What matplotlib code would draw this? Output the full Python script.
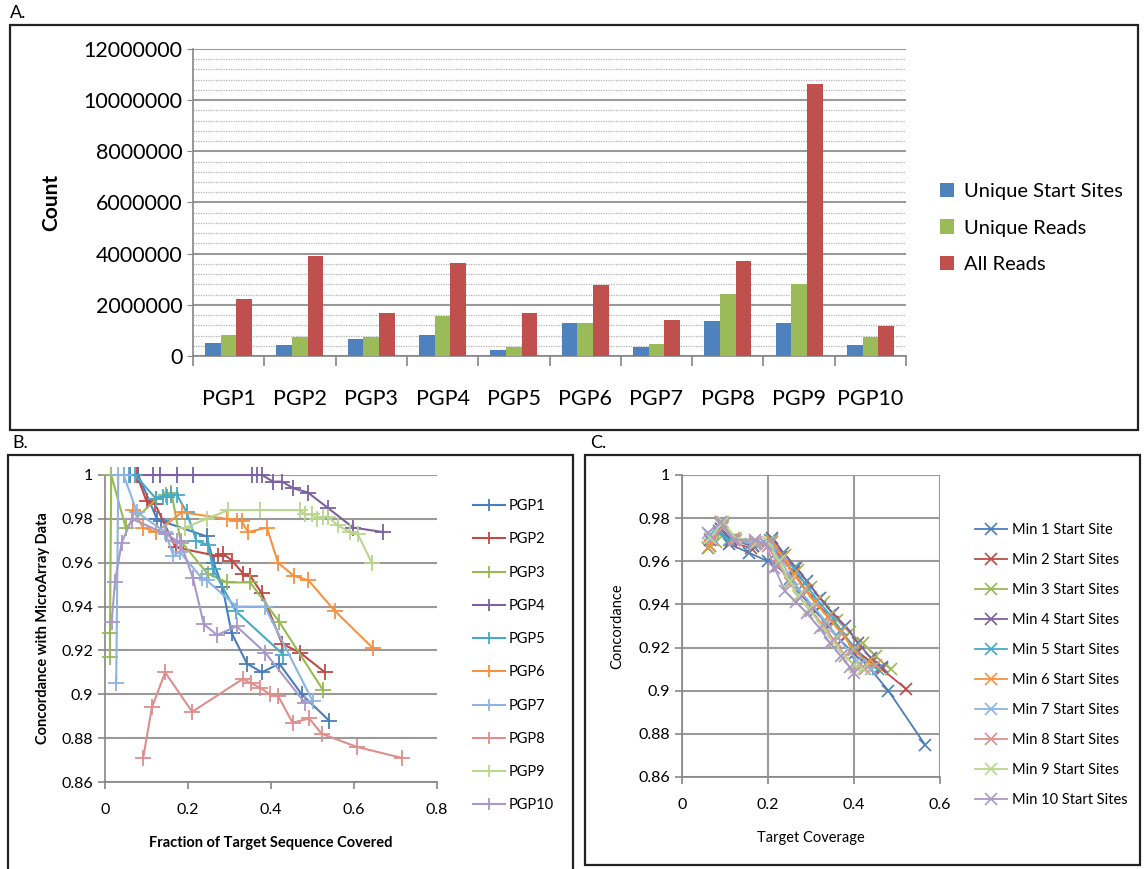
import numpy as np
import matplotlib
matplotlib.use("Agg")
import matplotlib.pyplot as plt
from matplotlib.patches import Rectangle
from matplotlib.ticker import MultipleLocator, FormatStrFormatter, FuncFormatter

plt.rcParams['font.family'] = ['Lato', 'DejaVu Sans']

# ---------------- Panel A data ----------------
samples = ['PGP1', 'PGP2', 'PGP3', 'PGP4', 'PGP5', 'PGP6', 'PGP7', 'PGP8', 'PGP9', 'PGP10']
unique_start_sites = [490000, 420000, 680000, 830000, 220000, 1290000, 360000, 1360000, 1290000, 420000]
unique_reads = [830000, 750000, 750000, 1570000, 360000, 1290000, 460000, 2430000, 2830000, 750000]
all_reads = [2240000, 3910000, 1700000, 3640000, 1700000, 2780000, 1420000, 3710000, 10650000, 1160000]

# ---------------- Panel B data ----------------
pgp1_x = [0.06, 0.08, 0.125, 0.136, 0.245, 0.262, 0.283, 0.305, 0.342, 0.378, 0.42, 0.474, 0.54]
pgp1_y = [1.0, 1.0, 0.980, 0.979, 0.972, 0.960, 0.949, 0.928, 0.914, 0.910, 0.914, 0.900, 0.888]
pgp2_x = [0.077, 0.10, 0.12, 0.17, 0.272, 0.285, 0.306, 0.333, 0.35, 0.378, 0.427, 0.47, 0.53]
pgp2_y = [1.0, 0.988, 0.987, 0.967, 0.963, 0.964, 0.961, 0.955, 0.954, 0.946, 0.923, 0.919, 0.910]
pgp3_x = [0.012, 0.012, 0.015, 0.05, 0.124, 0.148, 0.16, 0.182, 0.247, 0.294, 0.35, 0.42, 0.525]
pgp3_y = [0.917, 0.928, 1.0, 0.976, 0.989, 0.991, 0.992, 0.970, 0.955, 0.951, 0.951, 0.933, 0.902]
pgp4_x = [0.08, 0.116, 0.133, 0.173, 0.212, 0.354, 0.366, 0.378, 0.405, 0.427, 0.453, 0.489, 0.537, 0.598, 0.670]
pgp4_y = [1.0, 1.0, 1.0, 1.0, 1.0, 1.0, 1.0, 1.0, 0.997, 0.997, 0.994, 0.992, 0.985, 0.976, 0.974]
pgp5_x = [0.045, 0.058, 0.072, 0.124, 0.14, 0.15, 0.16, 0.173, 0.197, 0.22, 0.249, 0.26, 0.315, 0.43]
pgp5_y = [1.0, 1.0, 1.0, 0.989, 0.990, 0.990, 0.991, 0.991, 0.983, 0.970, 0.968, 0.957, 0.938, 0.918]
pgp6_x = [0.068, 0.092, 0.124, 0.185, 0.293, 0.317, 0.329, 0.345, 0.39, 0.417, 0.455, 0.49, 0.554, 0.646]
pgp6_y = [0.984, 0.976, 0.974, 0.983, 0.980, 0.979, 0.979, 0.974, 0.976, 0.960, 0.954, 0.952, 0.938, 0.921]
pgp7_x = [0.027, 0.032, 0.045, 0.077, 0.145, 0.165, 0.18, 0.233, 0.245, 0.317, 0.385, 0.50]
pgp7_y = [0.905, 1.0, 1.0, 0.983, 0.974, 0.963, 0.965, 0.953, 0.952, 0.940, 0.940, 0.897]
pgp8_x = [0.092, 0.113, 0.145, 0.21, 0.332, 0.352, 0.374, 0.397, 0.418, 0.452, 0.492, 0.522, 0.607, 0.715]
pgp8_y = [0.871, 0.894, 0.910, 0.892, 0.907, 0.905, 0.903, 0.900, 0.899, 0.887, 0.889, 0.882, 0.876, 0.871]
pgp9_x = [0.193, 0.245, 0.297, 0.373, 0.47, 0.482, 0.499, 0.511, 0.525, 0.537, 0.561, 0.59, 0.609, 0.643]
pgp9_y = [0.976, 0.980, 0.984, 0.984, 0.984, 0.982, 0.982, 0.980, 0.981, 0.981, 0.977, 0.974, 0.973, 0.960]
pgp10_x = [0.016, 0.024, 0.04, 0.065, 0.148, 0.173, 0.182, 0.212, 0.238, 0.27, 0.317, 0.386, 0.482]
pgp10_y = [0.933, 0.951, 0.969, 0.980, 0.973, 0.970, 0.969, 0.953, 0.932, 0.927, 0.931, 0.919, 0.896]

# ---------------- Panel C data ----------------
min1_x = [0.06, 0.085, 0.11, 0.155, 0.2, 0.22, 0.25, 0.28, 0.31, 0.34, 0.37, 0.40, 0.43, 0.48, 0.565]
min1_y = [0.966, 0.974, 0.968, 0.964, 0.960, 0.958, 0.952, 0.944, 0.937, 0.930, 0.923, 0.917, 0.912, 0.900, 0.875]
min2_x = [0.065, 0.09, 0.115, 0.16, 0.205, 0.23, 0.26, 0.29, 0.32, 0.35, 0.38, 0.41, 0.44, 0.465, 0.52]
min2_y = [0.967, 0.975, 0.969, 0.966, 0.968, 0.962, 0.955, 0.946, 0.939, 0.932, 0.925, 0.918, 0.913, 0.910, 0.901]
min3_x = [0.06, 0.08, 0.095, 0.12, 0.165, 0.21, 0.24, 0.27, 0.30, 0.33, 0.36, 0.39, 0.42, 0.45, 0.485]
min3_y = [0.966, 0.969, 0.977, 0.970, 0.967, 0.970, 0.963, 0.956, 0.948, 0.941, 0.933, 0.927, 0.922, 0.916, 0.910]
min4_x = [0.065, 0.09, 0.115, 0.165, 0.21, 0.235, 0.265, 0.29, 0.32, 0.35, 0.38, 0.41, 0.44, 0.465]
min4_y = [0.970, 0.975, 0.970, 0.967, 0.971, 0.964, 0.957, 0.951, 0.943, 0.936, 0.930, 0.922, 0.915, 0.911]
min5_x = [0.065, 0.085, 0.11, 0.16, 0.205, 0.23, 0.26, 0.285, 0.315, 0.345, 0.37, 0.40, 0.43, 0.455]
min5_y = [0.972, 0.973, 0.970, 0.968, 0.970, 0.963, 0.957, 0.950, 0.942, 0.935, 0.928, 0.920, 0.913, 0.910]
min6_x = [0.065, 0.09, 0.12, 0.17, 0.21, 0.235, 0.26, 0.285, 0.31, 0.34, 0.37, 0.40, 0.43, 0.45]
min6_y = [0.967, 0.978, 0.971, 0.968, 0.969, 0.962, 0.954, 0.947, 0.941, 0.934, 0.927, 0.919, 0.913, 0.912]
min7_x = [0.07, 0.09, 0.12, 0.17, 0.205, 0.23, 0.255, 0.28, 0.305, 0.335, 0.36, 0.39, 0.415, 0.44]
min7_y = [0.971, 0.977, 0.970, 0.968, 0.968, 0.960, 0.952, 0.945, 0.939, 0.932, 0.925, 0.918, 0.912, 0.910]
min8_x = [0.07, 0.095, 0.125, 0.17, 0.2, 0.225, 0.25, 0.275, 0.30, 0.33, 0.355, 0.38, 0.405, 0.425]
min8_y = [0.970, 0.976, 0.970, 0.969, 0.967, 0.958, 0.950, 0.943, 0.937, 0.930, 0.923, 0.916, 0.911, 0.910]
min9_x = [0.065, 0.095, 0.125, 0.175, 0.2, 0.225, 0.25, 0.27, 0.295, 0.325, 0.35, 0.375, 0.40, 0.42]
min9_y = [0.971, 0.978, 0.971, 0.969, 0.969, 0.960, 0.951, 0.944, 0.938, 0.930, 0.923, 0.917, 0.912, 0.910]
min10_x = [0.06, 0.09, 0.12, 0.17, 0.195, 0.215, 0.24, 0.265, 0.29, 0.32, 0.345, 0.37, 0.39, 0.40]
min10_y = [0.973, 0.978, 0.970, 0.970, 0.968, 0.957, 0.946, 0.941, 0.936, 0.929, 0.922, 0.916, 0.911, 0.908]

xl_colors = ['#4A7EBB', '#BE4B48', '#98B954', '#7D60A0', '#46AAC5',
             '#F69240', '#8EB4E3', '#DE8E8C', '#B9D68E', '#A899C8']
grid_c = '#9a9a9a'
spine_c = '#868686'

W, H = 1144, 869
fig = plt.figure(figsize=(W / 100, H / 100), dpi=100)


def px_rect(l, t, r, b):
    return [l / W, 1 - b / H, (r - l) / W, (b - t) / H]


def box(l, t, r, b):
    fig.patches.append(Rectangle((l / W, 1 - b / H), (r - l) / W, (b - t) / H,
                                 transform=fig.transFigure, fill=False,
                                 edgecolor='#222222', lw=1.6))


box(10, 25, 1138, 430)
box(8, 455, 573, 872)
box(585, 455, 1140, 865)
fig.text(10 / W, 1 - 13 / H, 'A.', fontsize=13, va='center', ha='left')
fig.text(12 / W, 1 - 443 / H, 'B.', fontsize=13, va='center', ha='left')
fig.text(590 / W, 1 - 443 / H, 'C.', fontsize=13, va='center', ha='left')

# ---------------- Panel A ----------------
axA = fig.add_axes(px_rect(193, 49, 906, 356))
xpos = np.arange(len(samples))
bw = 0.22
axA.bar(xpos - bw, unique_start_sites, bw, color='#4F81BD', label='Unique Start Sites', zorder=3)
axA.bar(xpos, unique_reads, bw, color='#9BBB59', label='Unique Reads', zorder=3)
axA.bar(xpos + bw, all_reads, bw, color='#C0504D', label='All Reads', zorder=3)
axA.set_xlim(-0.5, len(samples) - 0.5)
axA.set_ylim(0, 12000000)
axA.yaxis.set_major_locator(MultipleLocator(2000000))
axA.yaxis.set_minor_locator(MultipleLocator(400000))
axA.yaxis.set_major_formatter(FormatStrFormatter('%d'))
axA.grid(axis='y', which='major', color=grid_c, lw=1.5, zorder=0)
axA.grid(axis='y', which='minor', color='#b0b0b0', lw=0.9, ls=(0, (1, 1)), zorder=0)
axA.set_xticks(xpos)
axA.set_xticklabels(samples, fontsize=15.5)
axA.set_xticks(np.arange(-0.5, len(samples)), minor=True)
axA.tick_params(axis='x', which='major', length=0, pad=24)
axA.tick_params(axis='x', which='minor', length=7, color=spine_c, width=1.2)
axA.tick_params(axis='y', which='major', labelsize=15.5, length=4, color=spine_c)
axA.tick_params(axis='y', which='minor', length=0)
for s in ['top', 'right']:
    axA.spines[s].set_visible(False)
for s in ['left', 'bottom']:
    axA.spines[s].set_color(spine_c)
    axA.spines[s].set_linewidth(1.2)
axA.set_ylabel('Count', fontsize=15, fontweight='bold', labelpad=16)
axA.legend(loc='center left', bbox_to_anchor=(922 / W, 1 - 228 / H),
           bbox_transform=fig.transFigure, frameon=False, fontsize=14.5,
           handlelength=0.7, handleheight=0.7, labelspacing=0.95, handletextpad=0.5)

# ---------------- Panel B ----------------
axB = fig.add_axes(px_rect(105, 475, 437, 782))
b_x = [pgp1_x, pgp2_x, pgp3_x, pgp4_x, pgp5_x, pgp6_x, pgp7_x, pgp8_x, pgp9_x, pgp10_x]
b_y = [pgp1_y, pgp2_y, pgp3_y, pgp4_y, pgp5_y, pgp6_y, pgp7_y, pgp8_y, pgp9_y, pgp10_y]
for i in range(len(b_x)):
    axB.plot(b_x[i], b_y[i], color=xl_colors[i], marker='+', markersize=11, mew=1.3,
             lw=1.5, label='PGP%d' % (i + 1), zorder=3, clip_on=False)
axB.set_xlim(0, 0.8)
axB.set_ylim(0.86, 1.0)
axB.xaxis.set_major_locator(MultipleLocator(0.2))
axB.yaxis.set_major_locator(MultipleLocator(0.02))
gfmt = FuncFormatter(lambda v, p: ('%.2f' % v).rstrip('0').rstrip('.'))
axB.xaxis.set_major_formatter(gfmt)
axB.yaxis.set_major_formatter(gfmt)
axB.grid(axis='y', color=grid_c, lw=1.5, zorder=0)
axB.tick_params(labelsize=11.5, color=spine_c, length=5, width=1.2)
axB.tick_params(axis='x', pad=10)
for s in ['top', 'right']:
    axB.spines[s].set_visible(False)
for s in ['left', 'bottom']:
    axB.spines[s].set_color(spine_c)
    axB.spines[s].set_linewidth(1.2)
axB.set_ylabel('Concordance with MicroArray Data', fontsize=10.5, fontweight='bold', labelpad=8)
axB.set_xlabel('Fraction of Target Sequence Covered', fontsize=10.5, fontweight='bold', labelpad=14)
axB.legend(loc='upper left', bbox_to_anchor=(460 / W, 1 - 486 / H),
           bbox_transform=fig.transFigure, frameon=False, fontsize=10.5,
           handlelength=2.2, labelspacing=1.32, handletextpad=0.2, markerscale=0.8)

# ---------------- Panel C ----------------
axC = fig.add_axes(px_rect(682, 475, 940, 777))
c_x = [min1_x, min2_x, min3_x, min4_x, min5_x, min6_x, min7_x, min8_x, min9_x, min10_x]
c_y = [min1_y, min2_y, min3_y, min4_y, min5_y, min6_y, min7_y, min8_y, min9_y, min10_y]
c_labels = ['Min 1 Start Site'] + ['Min %d Start Sites' % k for k in range(2, 11)]
for i in range(len(c_x)):
    axC.plot(c_x[i], c_y[i], color=xl_colors[i], marker='x', markersize=9, mew=1.2,
             lw=1.3, label=c_labels[i], zorder=3)
axC.set_xlim(0, 0.6)
axC.set_ylim(0.86, 1.0)
axC.xaxis.set_major_locator(MultipleLocator(0.2))
axC.yaxis.set_major_locator(MultipleLocator(0.02))
axC.xaxis.set_major_formatter(gfmt)
axC.yaxis.set_major_formatter(gfmt)
axC.grid(color=grid_c, lw=1.5, zorder=0)
axC.tick_params(labelsize=11.5, color=spine_c, length=5, width=1.2)
axC.tick_params(axis='x', pad=10)
for s in ['top', 'right']:
    axC.spines[s].set_visible(False)
for s in ['left', 'bottom']:
    axC.spines[s].set_color(spine_c)
    axC.spines[s].set_linewidth(1.2)
axC.set_ylabel('Concordance', fontsize=10.5, labelpad=10)
axC.set_xlabel('Target Coverage', fontsize=10.5, labelpad=14)
axC.legend(loc='upper left', bbox_to_anchor=(962 / W, 1 - 510 / H),
           bbox_transform=fig.transFigure, frameon=False, fontsize=10.5,
           handlelength=2.2, labelspacing=1.1, handletextpad=0.3, markerscale=0.9)

fig.savefig('out.png', dpi=100)
